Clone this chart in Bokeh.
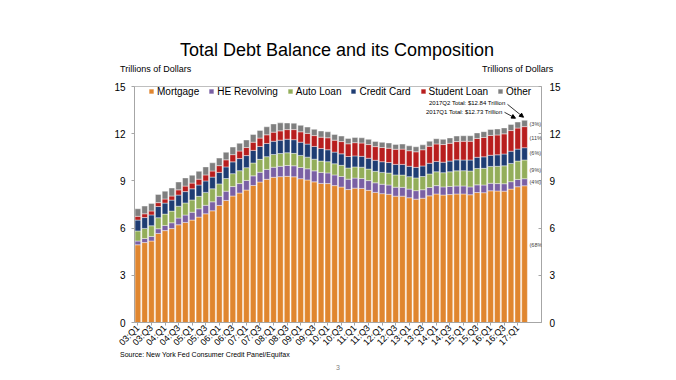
import math
from bokeh.plotting import figure
from bokeh.layouts import column
from bokeh.models import (Range1d, LinearAxis, FixedTicker, Label, Arrow, NormalHead,
                          ColumnDataSource, Div)
from bokeh.embed import file_html
from bokeh.resources import INLINE

# ---------------- data (trillions of dollars) ----------------
quarters = [f"{y:02d}:Q{q}" for y in range(3, 18) for q in range(1, 5)][:58]

mortgage = [4.94, 5.08, 5.18, 5.66, 5.84, 5.97, 6.21, 6.36, 6.51, 6.70, 6.91, 7.10,
            7.44, 7.76, 8.04, 8.23, 8.42, 8.71, 8.93, 9.10, 9.23, 9.27, 9.29, 9.26,
            9.14, 9.06, 8.94, 8.84, 8.83, 8.70, 8.61, 8.45, 8.54, 8.52, 8.40, 8.27,
            8.19, 8.15, 8.03, 8.03, 7.93, 7.84, 7.90, 8.05, 8.17, 8.10, 8.13, 8.17,
            8.17, 8.12, 8.26, 8.25, 8.37, 8.36, 8.35, 8.48, 8.63, 8.69]
he_revolving = [0.24, 0.26, 0.29, 0.30, 0.33, 0.37, 0.43, 0.47, 0.50, 0.53, 0.54, 0.57,
                0.58, 0.59, 0.60, 0.60, 0.61, 0.61, 0.62, 0.63, 0.64, 0.66, 0.69, 0.70,
                0.71, 0.71, 0.70, 0.70, 0.68, 0.68, 0.67, 0.66, 0.64, 0.63, 0.62, 0.61,
                0.60, 0.59, 0.57, 0.56, 0.55, 0.54, 0.54, 0.53, 0.53, 0.52, 0.52, 0.51,
                0.51, 0.50, 0.49, 0.49, 0.48, 0.47, 0.47, 0.47, 0.46, 0.45]
auto_loan = [0.64, 0.64, 0.68, 0.70, 0.72, 0.74, 0.75, 0.77, 0.78, 0.79, 0.82, 0.83,
             0.79, 0.80, 0.82, 0.82, 0.81, 0.82, 0.82, 0.81, 0.81, 0.81, 0.81, 0.79,
             0.77, 0.74, 0.74, 0.72, 0.71, 0.71, 0.71, 0.71, 0.71, 0.72, 0.73, 0.73,
             0.75, 0.76, 0.78, 0.78, 0.79, 0.81, 0.84, 0.86, 0.88, 0.90, 0.93, 0.96,
             0.97, 1.01, 1.04, 1.06, 1.07, 1.10, 1.14, 1.16, 1.17, 1.19]
credit_card = [0.69, 0.69, 0.69, 0.71, 0.70, 0.70, 0.71, 0.72, 0.71, 0.72, 0.73, 0.74,
               0.73, 0.74, 0.75, 0.77, 0.77, 0.80, 0.82, 0.84, 0.84, 0.85, 0.86, 0.87,
               0.84, 0.83, 0.81, 0.80, 0.76, 0.74, 0.73, 0.73, 0.70, 0.69, 0.69, 0.70,
               0.68, 0.67, 0.67, 0.68, 0.66, 0.67, 0.67, 0.68, 0.66, 0.67, 0.68, 0.70,
               0.68, 0.70, 0.71, 0.73, 0.71, 0.73, 0.75, 0.78, 0.76, 0.78]
student_loan = [0.24, 0.24, 0.25, 0.25, 0.26, 0.26, 0.33, 0.35, 0.36, 0.37, 0.38, 0.39,
                0.43, 0.45, 0.46, 0.48, 0.51, 0.52, 0.53, 0.55, 0.58, 0.59, 0.61, 0.64,
                0.66, 0.68, 0.69, 0.72, 0.76, 0.76, 0.78, 0.81, 0.84, 0.85, 0.87, 0.87,
                0.90, 0.91, 0.96, 0.97, 0.99, 0.99, 1.03, 1.08, 1.11, 1.12, 1.13, 1.16,
                1.19, 1.19, 1.20, 1.23, 1.26, 1.26, 1.28, 1.31, 1.34, 1.34]
other = [0.48, 0.49, 0.48, 0.52, 0.50, 0.51, 0.50, 0.52, 0.50, 0.50, 0.51, 0.52,
         0.48, 0.48, 0.48, 0.49, 0.48, 0.49, 0.49, 0.51, 0.52, 0.51, 0.42, 0.41,
         0.41, 0.40, 0.40, 0.39, 0.38, 0.36, 0.35, 0.34, 0.33, 0.33, 0.33, 0.33,
         0.33, 0.33, 0.31, 0.32, 0.31, 0.32, 0.31, 0.32, 0.33, 0.33, 0.34, 0.35,
         0.35, 0.35, 0.35, 0.37, 0.38, 0.38, 0.38, 0.39, 0.38, 0.40]

series_names = ["Mortgage", "HE Revolving", "Auto Loan", "Credit Card", "Student Loan", "Other"]
series_keys = ["mortgage", "he", "auto", "card", "student", "other"]
series_colors = ["#E0862F", "#7A60A4", "#93AE5A", "#1F3D73", "#B81E1E", "#7F7F7F"]

share_labels = ["(68%)", "(4%)", "(9%)", "(6%)", "(11%)", "(3%)"]
share_label_y = [4.9, 8.96, 9.72, 10.79, 11.7, 12.64]

total_notes = ["2017Q2 Total: $12.84 Trillion", "2017Q1 Total: $12.73 Trillion"]
title_text = "Total Debt Balance and its Composition"
unit_text = "Trillions of Dollars"
source_text = "Source: New York Fed Consumer Credit Panel/Equifax"
page_text = "3"

FONT = "Liberation Sans"

# ---------------- layout (page pixels) ----------------
W = 672
HEADER_H = 78
FOOTER_TOP = 353
TOTAL_H = 378
FRAME_L, FRAME_R, FRAME_T, FRAME_B = 134, 541, 86, 324
NSLOT = 60
SLOT = (FRAME_R - FRAME_L) / NSLOT
PXU = (FRAME_B - FRAME_T) / 15.0


def dx(px):
    return (px - FRAME_L) / SLOT - 0.5


def dy(py):
    return (FRAME_B - py) / PXU


def span(text, left, top, size, anchor="left", color="#000000"):
    tx = "-50%" if anchor == "center" else "0"
    return (f'<span style="position:absolute;left:{left}px;top:{top}px;'
            f'transform:translate({tx},-50%);white-space:nowrap;font-family:\'{FONT}\';'
            f'font-size:{size}px;line-height:1.15;color:{color};">{text}</span>')


def text_div(h, spans):
    html = (f'<div style="position:relative;width:{W}px;height:{h}px;">' + "".join(spans) + "</div>")
    return Div(text=html, width=W, height=h, margin=0)


head = text_div(HEADER_H, [
    span(title_text, 337, 50, 18, "center"),
    span(unit_text, 120, 69, 9),
    span(unit_text, 482, 69, 9),
])

# ---------------- main chart ----------------
MAIN_H = FOOTER_TOP - HEADER_H
p = figure(width=W, height=MAIN_H, x_range=Range1d(-0.5, NSLOT - 0.5), y_range=Range1d(0, 15),
           output_backend="svg", toolbar_location=None, title=None,
           min_border_left=FRAME_L, min_border_right=W - FRAME_R,
           min_border_top=FRAME_T - HEADER_H, min_border_bottom=FOOTER_TOP - FRAME_B)
p.background_fill_color = "white"
p.border_fill_color = "white"
p.outline_line_color = "#BFBFBF"
p.xgrid.visible = False
p.ygrid.visible = False

src = ColumnDataSource(dict(x=list(range(len(quarters))), mortgage=mortgage, he=he_revolving,
                            auto=auto_loan, card=credit_card, student=student_loan, other=other))
p.vbar_stack(series_keys, x="x", width=0.84, source=src, fill_color=series_colors,
             line_color="white", line_width=0.6, line_alpha=0.7,
             legend_label=series_names)

ax = p.xaxis[0]
ax.ticker = FixedTicker(ticks=list(range(0, len(quarters), 2)))
ax.major_label_overrides = {i: quarters[i] for i in range(0, len(quarters), 2)}
ax.major_label_orientation = math.pi / 4
ax.major_label_text_font = FONT
ax.major_label_text_font_size = "9px"
ax.major_label_text_color = "#000000"
ax.axis_line_color = "#A6A6A6"
ax.major_tick_line_color = "#A6A6A6"
ax.major_tick_in = 0
ax.major_tick_out = 3
ax.minor_tick_line_color = None
ax.major_label_standoff = 1

ay = p.yaxis[0]
ay.ticker = FixedTicker(ticks=[0, 3, 6, 9, 12, 15])
ay.major_label_text_font = FONT
ay.major_label_text_font_size = "10px"
ay.major_label_text_color = "#000000"
ay.axis_line_color = "#A6A6A6"
ay.major_tick_line_color = "#A6A6A6"
ay.major_tick_in = 0
ay.major_tick_out = 3
ay.minor_tick_line_color = None
ay.major_label_standoff = 6

ar = LinearAxis(ticker=FixedTicker(ticks=[0, 3, 6, 9, 12, 15]))
ar.major_label_text_font = FONT
ar.major_label_text_font_size = "10px"
ar.major_label_text_color = "#000000"
ar.axis_line_color = "#A6A6A6"
ar.major_tick_line_color = "#A6A6A6"
ar.major_tick_in = 3
ar.major_tick_out = 0
ar.minor_tick_line_color = None
ar.major_label_standoff = 8
p.add_layout(ar, "right")

lg = p.legend[0]
lg.orientation = "horizontal"
lg.location = (14, 225)
lg.background_fill_alpha = 0
lg.border_line_color = None
lg.padding = 0
lg.margin = 0
lg.spacing = 9
lg.glyph_width = 6
lg.glyph_height = 6
lg.label_standoff = 3
lg.label_height = 12
lg.label_text_font = FONT
lg.label_text_font_size = "10px"
lg.label_text_color = "#000000"

for t, yv in zip(share_labels, share_label_y):
    p.add_layout(Label(x=dx(529), y=yv, text=t, text_font=FONT, text_font_size="5.5px",
                       text_align="left", text_baseline="middle", text_color="#404040"))

p.add_layout(Label(x=dx(505), y=dy(103), text=total_notes[0], text_font=FONT,
                   text_font_size="6px", text_align="right", text_baseline="middle",
                   text_color="#000000"))
p.add_layout(Label(x=dx(502), y=dy(112), text=total_notes[1], text_font=FONT,
                   text_font_size="6px", text_align="right", text_baseline="middle",
                   text_color="#000000"))
p.add_layout(Arrow(x_start=dx(507), y_start=dy(104), x_end=dx(523), y_end=dy(117),
                   line_width=0.8, line_color="#000000",
                   end=NormalHead(size=4, fill_color="#000000", line_color="#000000")))
p.add_layout(Arrow(x_start=dx(504), y_start=dy(112), x_end=dx(515), y_end=dy(118),
                   line_width=0.8, line_color="#000000",
                   end=NormalHead(size=4, fill_color="#000000", line_color="#000000")))

# ---------------- footer ----------------
FOOT_H = TOTAL_H - FOOTER_TOP
foot = text_div(FOOT_H, [
    span(source_text, 120, 355 - FOOTER_TOP, 7),
    span(page_text, 338, 368 - FOOTER_TOP, 7, "center", "#7F7F7F"),
])

layout = column(head, p, foot, spacing=0)
open("out.html", "w").write(file_html(layout, INLINE))
